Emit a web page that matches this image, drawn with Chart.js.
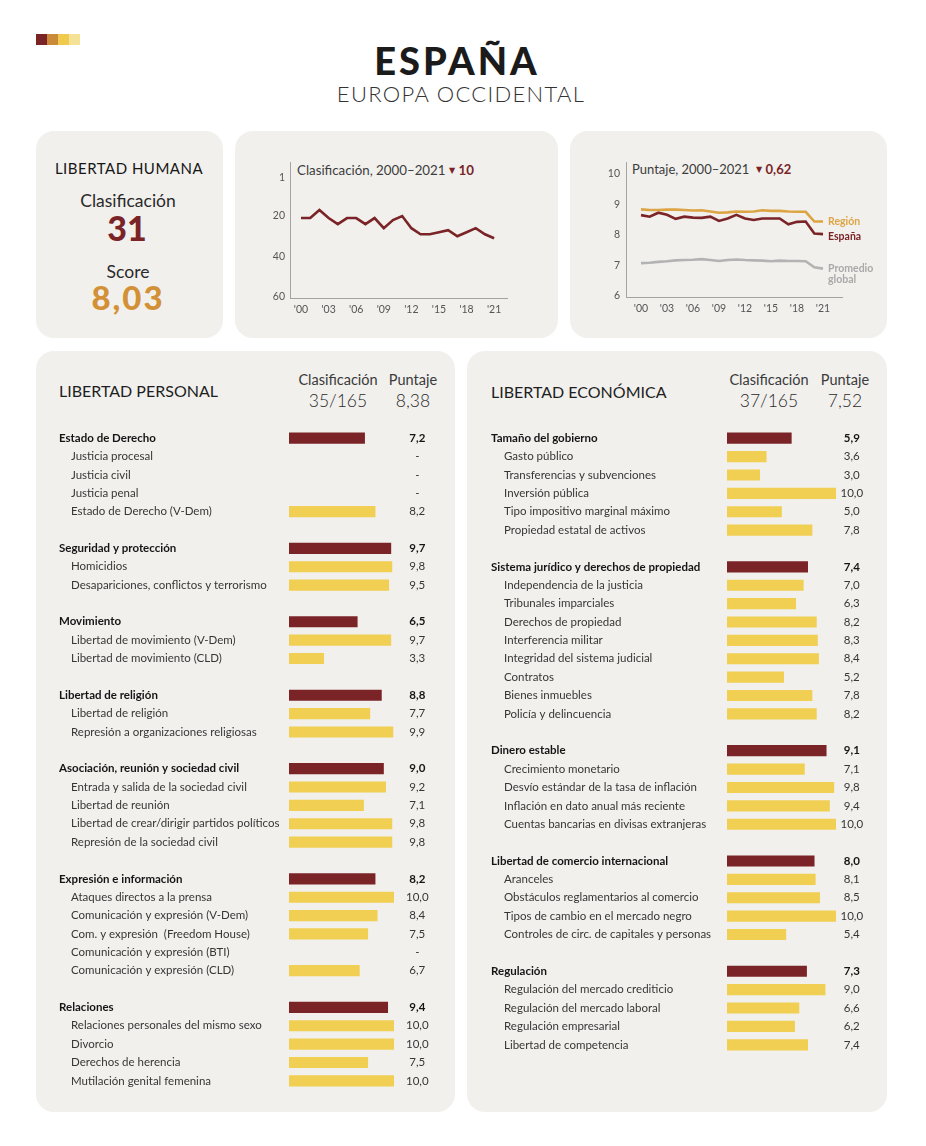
<!DOCTYPE html>
<html><head><meta charset="utf-8">
<script src="https://cdn.jsdelivr.net/npm/chart.js@4.4.1/dist/chart.umd.min.js"></script>
<style>
html,body{margin:0;padding:0;background:#fff;}
#page{position:relative;width:926px;height:1146px;overflow:hidden;font-family:Lato,'Open Sans',sans-serif;color:#222;}
.panel{position:absolute;background:#f1f0ed;border-radius:18px;}
.t{position:absolute;white-space:nowrap;line-height:1;}
.c{transform:translate(-50%,-50%);}
.l{transform:translate(0,-50%);}
canvas{position:absolute;}
.sq{position:absolute;top:34px;width:11px;height:11px;}
.tri{font-family:'DejaVu Sans',sans-serif;font-size:8px;vertical-align:2px;}
</style></head><body>
<div id="page">
  <div class="sq" style="left:36px;background:#7a2427"></div>
  <div class="sq" style="left:47px;background:#c98b3a"></div>
  <div class="sq" style="left:58px;background:#efca4c"></div>
  <div class="sq" style="left:69px;background:#f6e296"></div>

  <div class="t c" style="left:457px;top:60px;font-size:38px;font-weight:900;letter-spacing:3px;color:#1b1b1b">ESPAÑA</div>
  <div class="t c" style="left:461px;top:94px;font-size:22px;font-weight:300;letter-spacing:1.3px;color:#333">EUROPA OCCIDENTAL</div>

  <div class="panel" style="left:36px;top:131px;width:187px;height:207px"></div>
  <div class="panel" style="left:235px;top:131px;width:323px;height:207px"></div>
  <div class="panel" style="left:570px;top:131px;width:317px;height:207px"></div>
  <div class="panel" style="left:36px;top:351px;width:419px;height:761px"></div>
  <div class="panel" style="left:467px;top:351px;width:420px;height:761px"></div>

  <div class="t c" style="left:129px;top:168px;font-size:15px;letter-spacing:0.5px;color:#161616">LIBERTAD HUMANA</div>
  <div class="t c" style="left:128px;top:201px;font-size:17.5px;color:#2a2a2a">Clasificación</div>
  <div class="t c" style="left:127px;top:228px;font-size:34px;font-weight:900;color:#7a2427">31</div>
  <div class="t c" style="left:128px;top:272px;font-size:17.5px;color:#2a2a2a">Score</div>
  <div class="t c" style="left:128px;top:297px;font-size:33px;font-weight:900;letter-spacing:2px;color:#d39137">8,03</div>

  <div class="t l" style="left:297px;top:171px;font-size:13.3px;color:#3c3c3c">Clasificación, 2000–2021 <span class="tri" style="color:#7a2427">▼</span> <b style="color:#7a2427">10</b></div>
  <div class="t l" style="left:632px;top:169px;font-size:13px;color:#3c3c3c">Puntaje, 2000–2021 &nbsp;<span class="tri" style="color:#7a2427">▼</span> <b style="color:#7a2427">0,62</b></div>

  <div class="t l" style="left:59px;top:391px;font-size:16px;color:#1e1e1e">LIBERTAD PERSONAL</div>
  <div class="t c" style="left:338px;top:380px;font-size:14.5px;color:#3a3a3a">Clasificación</div>
  <div class="t c" style="left:338px;top:401px;font-size:17.5px;font-weight:300;color:#2a2a2a">35/165</div>
  <div class="t c" style="left:413px;top:380px;font-size:14.5px;color:#3a3a3a">Puntaje</div>
  <div class="t c" style="left:413px;top:401px;font-size:17.5px;font-weight:300;color:#2a2a2a">8,38</div>

  <div class="t l" style="left:491px;top:392px;font-size:16px;color:#1e1e1e">LIBERTAD ECONÓMICA</div>
  <div class="t c" style="left:769px;top:380px;font-size:14.5px;color:#3a3a3a">Clasificación</div>
  <div class="t c" style="left:769px;top:401px;font-size:17.5px;font-weight:300;color:#2a2a2a">37/165</div>
  <div class="t c" style="left:845px;top:380px;font-size:14.5px;color:#3a3a3a">Puntaje</div>
  <div class="t c" style="left:845px;top:401px;font-size:17.5px;font-weight:300;color:#2a2a2a">7,52</div>

  <canvas id="rank" width="323" height="207" style="left:235px;top:131px"></canvas>
  <canvas id="score" width="317" height="207" style="left:570px;top:131px"></canvas>
  <canvas id="pers" width="419" height="661" style="left:36px;top:429px"></canvas>
  <canvas id="econ" width="420" height="625" style="left:467px;top:429px"></canvas>
</div>
<script>
// ---------- data ----------
const years = [2000,2001,2002,2003,2004,2005,2006,2007,2008,2009,2010,2011,2012,2013,2014,2015,2016,2017,2018,2019,2020,2021];
const yearTicks = [2000,2003,2006,2009,2012,2015,2018,2021];
const rankSpain = [21,21,17,21,24,21,21,24,21,26,22,20,26,29,29,28,27,30,28,26,29,31];
const rankTicks = [1,20,40,60];
const scoreSpain  = [8.65,8.60,8.73,8.66,8.53,8.60,8.57,8.56,8.60,8.46,8.54,8.66,8.54,8.49,8.54,8.54,8.54,8.35,8.43,8.44,8.05,8.03];
const scoreRegion = [8.84,8.82,8.82,8.83,8.83,8.82,8.80,8.81,8.77,8.73,8.74,8.77,8.76,8.77,8.81,8.79,8.79,8.77,8.76,8.76,8.44,8.44];
const scoreGlobal = [7.08,7.09,7.12,7.14,7.17,7.18,7.19,7.21,7.18,7.15,7.18,7.20,7.18,7.17,7.16,7.14,7.16,7.15,7.15,7.14,6.94,6.90];
const scoreTicks = [6,7,8,9,10];

// level: 0 = main category, 1 = sub-indicator, -1 = spacer row
const persLabels = ['Estado de Derecho','Justicia procesal','Justicia civil','Justicia penal','Estado de Derecho (V-Dem)','',
 'Seguridad y protección','Homicidios','Desapariciones, conflictos y terrorismo','',
 'Movimiento','Libertad de movimiento (V-Dem)','Libertad de movimiento (CLD)','',
 'Libertad de religión','Libertad de religión','Represión a organizaciones religiosas','',
 'Asociación, reunión y sociedad civil','Entrada y salida de la sociedad civil','Libertad de reunión','Libertad de crear/dirigir partidos políticos','Represión de la sociedad civil','',
 'Expresión e información','Ataques directos a la prensa','Comunicación y expresión (V-Dem)','Com. y expresión  (Freedom House)','Comunicación y expresión (BTI)','Comunicación y expresión (CLD)','',
 'Relaciones','Relaciones personales del mismo sexo','Divorcio','Derechos de herencia','Mutilación genital femenina'];
const persLevels = [0,1,1,1,1,-1, 0,1,1,-1, 0,1,1,-1, 0,1,1,-1, 0,1,1,1,1,-1, 0,1,1,1,1,1,-1, 0,1,1,1,1];
const persValues = [7.2,null,null,null,8.2,null, 9.7,9.8,9.5,null, 6.5,9.7,3.3,null, 8.8,7.7,9.9,null, 9.0,9.2,7.1,9.8,9.8,null, 8.2,10.0,8.4,7.5,null,6.7,null, 9.4,10.0,10.0,7.5,10.0];

const econLabels = ['Tamaño del gobierno','Gasto público','Transferencias y subvenciones','Inversión pública','Tipo impositivo marginal máximo','Propiedad estatal de activos','',
 'Sistema jurídico y derechos de propiedad','Independencia de la justicia','Tribunales imparciales','Derechos de propiedad','Interferencia militar','Integridad del sistema judicial','Contratos','Bienes inmuebles','Policía y delincuencia','',
 'Dinero estable','Crecimiento monetario','Desvío estándar de la tasa de inflación','Inflación en dato anual más reciente','Cuentas bancarias en divisas extranjeras','',
 'Libertad de comercio internacional','Aranceles','Obstáculos reglamentarios al comercio','Tipos de cambio en el mercado negro','Controles de circ. de capitales y personas','',
 'Regulación','Regulación del mercado crediticio','Regulación del mercado laboral','Regulación empresarial','Libertad de competencia'];
const econLevels = [0,1,1,1,1,1,-1, 0,1,1,1,1,1,1,1,1,-1, 0,1,1,1,1,-1, 0,1,1,1,1,-1, 0,1,1,1,1];
const econValues = [5.9,3.6,3.0,10.0,5.0,7.8,null, 7.4,7.0,6.3,8.2,8.3,8.4,5.2,7.8,8.2,null, 9.1,7.1,9.8,9.4,10.0,null, 8.0,8.1,8.5,10.0,5.4,null, 7.3,9.0,6.6,6.2,7.4];

// ---------- styles ----------
const DARK = '#7a2427', YELLOW = '#f0cf52', REGION = '#dca443', GLOBAL = '#b3b3b3';
Chart.defaults.font.family = 'Lato';
const base = {responsive:false, animation:false, events:[], plugins:{legend:{display:false}, tooltip:{enabled:false}}};
const axisBorder = {display:true, color:'#a3a3a3', width:1};
const tickFont = {family:'Lato', size:10.5};
const fixSize = (w, h) => s => {
  if (w != null) s.width = w;
  if (h != null) s.height = h;
  s.paddingTop = 0; s.paddingBottom = 0; s.paddingLeft = 0; s.paddingRight = 0;
};

// ---------- rank line chart ----------
new Chart(document.getElementById('rank'), {
  type:'line',
  data:{datasets:[{data: years.map((y,i)=>({x:y, y:rankSpain[i]})), borderColor:DARK, borderWidth:2.6, pointRadius:0, tension:0}]},
  options:Object.assign({}, base, {
    layout:{padding:{top:31, right:51, left:0, bottom:0}},
    scales:{
      x:{type:'linear', min:1998.8, max:2022.4,
         afterBuildTicks:s=>{s.ticks = yearTicks.map(v=>({value:v}));},
         ticks:{callback:v=>"'"+String(v).slice(2), color:'#555', font:tickFont, padding:5, maxRotation:0, autoSkip:false},
         grid:{display:false, drawTicks:false}, border:axisBorder, afterFit:fixSize(null, 40)},
      y:{type:'linear', reverse:true, min:-6.7, max:60.5,
         afterBuildTicks:s=>{s.ticks = rankTicks.map(v=>({value:v}));},
         ticks:{color:'#555', font:tickFont, padding:5},
         grid:{display:false, drawTicks:false}, border:axisBorder, afterFit:fixSize(55, null)}
    }
  })
});

// ---------- score line chart ----------
const endLabels = {
  id:'endLabels',
  afterDatasetsDraw(chart){
    const ctx = chart.ctx, xs = chart.scales.x, ys = chart.scales.y;
    const x = xs.getPixelForValue(years[years.length-1]) + 5;
    const last = a => a[a.length-1];
    ctx.save();
    ctx.font = 'bold 10.5px Lato';
    ctx.textBaseline = 'middle';
    ctx.textAlign = 'left';
    ctx.fillStyle = REGION; ctx.fillText('Región', x, ys.getPixelForValue(last(scoreRegion)));
    ctx.fillStyle = DARK; ctx.fillText('España', x, ys.getPixelForValue(last(scoreSpain)) + 3);
    ctx.fillStyle = '#a9a9a9';
    const gy = ys.getPixelForValue(last(scoreGlobal));
    ctx.fillText('Promedio', x, gy); ctx.fillText('global', x, gy + 11);
    ctx.restore();
  }
};
new Chart(document.getElementById('score'), {
  type:'line',
  data:{datasets:[
    {data: years.map((y,i)=>({x:y, y:scoreGlobal[i]})), borderColor:GLOBAL, borderWidth:2.6, pointRadius:0, tension:0},
    {data: years.map((y,i)=>({x:y, y:scoreRegion[i]})), borderColor:REGION, borderWidth:2.6, pointRadius:0, tension:0},
    {data: years.map((y,i)=>({x:y, y:scoreSpain[i]})), borderColor:DARK, borderWidth:2.6, pointRadius:0, tension:0}
  ]},
  options:Object.assign({}, base, {
    layout:{padding:{top:31, right:45, left:0, bottom:0}},
    scales:{
      x:{type:'linear', min:1998.27, max:2023.19,
         afterBuildTicks:s=>{s.ticks = yearTicks.map(v=>({value:v}));},
         ticks:{callback:v=>"'"+String(v).slice(2), color:'#555', font:tickFont, padding:5, maxRotation:0, autoSkip:false},
         grid:{display:false, drawTicks:false}, border:axisBorder, afterFit:fixSize(null, 41)},
      y:{type:'linear', min:5.97, max:10.39,
         afterBuildTicks:s=>{s.ticks = scoreTicks.map(v=>({value:v}));},
         ticks:{color:'#555', font:tickFont, padding:6},
         grid:{display:false, drawTicks:false}, border:axisBorder, afterFit:fixSize(56, null)}
    }
  }),
  plugins:[endLabels]
});

// ---------- bar panels ----------
function barPanel(id, labels, levels, values, o){
  const fmt = (v,i) => levels[i] < 0 ? '' : (v == null ? '-' : v.toFixed(1).replace('.', ','));
  const valueTexts = values.map(fmt);
  const noAxisLines = {grid:{display:false, drawTicks:false}, border:{display:false}};
  new Chart(document.getElementById(id), {
    type:'bar',
    data:{labels: labels, datasets:[{
      data: values, yAxisID:'yc', xAxisID:'x',
      backgroundColor: levels.map(l => l === 0 ? DARK : YELLOW),
      barThickness:10.5, borderWidth:0
    }]},
    options:Object.assign({}, base, {
      indexAxis:'y',
      layout:{padding:{left:o.padLeft, right:0, top:0, bottom:0}},
      scales:{
        x:{type:'linear', min:0, max:10, display:false},
        // main categories: mirrored so the bold text is not clipped, drawn back over the indent
        yp:Object.assign({type:'category', position:'left', weight:2, offset:true,
            labels: labels.map((l,i)=> levels[i]===0 ? l : ''),
            ticks:{autoSkip:false, mirror:true, padding:-o.indent, color:'#151515', font:{family:'Lato', size:11.5, weight:'bold'}},
            afterFit:fixSize(0, null)}, noAxisLines),
        yc:Object.assign({type:'category', position:'left', weight:1, offset:true,
            labels: labels.map((l,i)=> levels[i]===1 ? l : ''),
            ticks:{autoSkip:false, crossAlign:'far', padding:0, color:'#363636', font:{family:'Lato', size:11.5}},
            afterFit:fixSize(o.childW, null)}, noAxisLines),
        yv:Object.assign({type:'category', position:'right', offset:true,
            labels: valueTexts,
            ticks:{autoSkip:false, crossAlign:'center', padding:o.valPad,
                   color: c => levels[c.index]===0 ? '#151515' : '#363636',
                   font: c => ({family:'Lato', size:11.5, weight: levels[c.index]===0 ? 'bold' : 'normal'})},
            afterFit:fixSize(o.rightW, null)}, noAxisLines)
      }
    })
  });
}
barPanel('pers', persLabels, persLevels, persValues, {padLeft:35, indent:12, childW:218, rightW:61, valPad:12});
barPanel('econ', econLabels, econLevels, econValues, {padLeft:37, indent:13, childW:223, rightW:51, valPad:4.5});
</script>
</body></html>
